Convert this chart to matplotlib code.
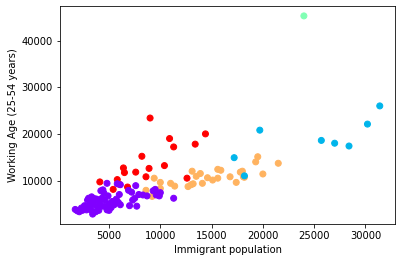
import matplotlib
matplotlib.use("Agg")
import matplotlib.pyplot as plt
import numpy as np

# cluster 0 (purple)
c0_x = [1700, 1900, 2100, 2300, 2400, 2600, 2800, 2900, 3000, 3000, 3100, 3200, 3300, 3300, 3400,
        3500, 3500, 3700, 3800, 3900, 4000, 4100, 4200, 4300, 4400, 4500, 4600, 4700, 4800, 4800,
        4900, 5000, 5000, 5200, 5300, 5500, 5700, 5800, 5900, 6000, 6100, 6900, 7000, 7200, 7300,
        7500, 7600, 7700, 7900, 8300, 8700, 9300, 9500, 9600, 9900, 10000, 11300, 3600, 4400, 6100]
c0_y = [3800, 3500, 3300, 4100, 3600, 4600, 3700, 5800, 6200, 4500, 3900, 5300, 3600, 6500, 2800,
        4800, 5500, 3300, 6000, 4300, 3600, 5200, 7800, 6200, 8000, 7300, 5800, 4400, 9400, 3700,
        6700, 5000, 3600, 4200, 5500, 4800, 6000, 9300, 5300, 7000, 4800, 7900, 4600, 7500, 5800,
        6200, 8900, 4500, 7000, 6900, 6700, 7800, 8100, 6900, 6700, 7400, 6200, 6100, 4500, 9100]
# cluster 1 (blue)
c1_x = [17200, 18200, 19700, 25700, 27000, 28400, 30200, 31400]
c1_y = [14900, 11000, 20800, 18600, 18000, 17400, 22100, 26000]
# cluster 2 (green)
c2_x = [24000]
c2_y = [45300]
# cluster 3 (orange)
c3_x = [8600, 9200, 9400, 9600, 10000, 10000, 11000, 11400, 12700, 13100, 13200, 13500, 13900, 14100,
        14600, 15100, 15600, 15900, 15600, 16800, 17400, 17800, 18000, 18200, 19300, 19500, 20000,
        21500, 18100, 13000]
c3_y = [7900, 6600, 10500, 7300, 9600, 8300, 9400, 8800, 8700, 12000, 9300, 10900, 11500, 9400,
        10600, 10100, 12400, 12200, 10500, 10800, 9600, 11800, 12000, 10700, 14000, 15100, 11400,
        13700, 10800, 9100]
# cluster 4 (red)
c4_x = [4100, 5400, 5800, 6000, 6400, 6500, 6800, 7600, 8200, 8600, 8900, 9000, 10400, 10900,
        11300, 12600, 13400, 14400]
c4_y = [9700, 8100, 10200, 9200, 12700, 11700, 8600, 11800, 15200, 10800, 12600, 23400, 13200,
        19000, 17200, 10500, 17800, 20000]

xs = c4_x + c3_x + c2_x + c1_x + c0_x
ys = c4_y + c3_y + c2_y + c1_y + c0_y
labels = [4] * len(c4_x) + [3] * len(c3_x) + [2] * len(c2_x) + [1] * len(c1_x) + [0] * len(c0_x)

W, H = 401, 262
fig = plt.figure(figsize=(W / 72, H / 72), dpi=72)
ax = fig.add_axes([60 / W, (H - 224) / H, 335 / W, 218 / H])
ax.scatter(xs, ys, c=labels, cmap='rainbow', s=36)
ax.set_xlabel('Immigrant population')
ax.set_ylabel('Working Age (25-54 years)')
ax.set_xticks([5000, 10000, 15000, 20000, 25000, 30000])
ax.set_yticks([10000, 20000, 30000, 40000])
fig.savefig('out.png', dpi=72)
